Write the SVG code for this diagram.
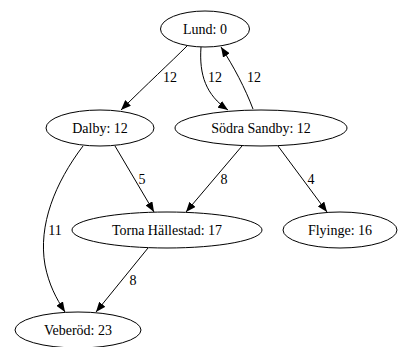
<svg xmlns="http://www.w3.org/2000/svg" width="398" height="347" viewBox="0 0 398 347">
<style>
  .node ellipse { fill: none; stroke: #000; stroke-width: 1; }
  .node text { font-family: "Liberation Serif", "Times New Roman", serif; font-size: 14px; text-anchor: middle; fill: #000; }
  .edge path { fill: none; stroke: #000; stroke-width: 1; marker-end: url(#arrow); }
  .edge text { font-family: "Liberation Serif", "Times New Roman", serif; font-size: 14px; text-anchor: middle; fill: #000; }
</style>
<defs>
  <marker id="arrow" viewBox="0 0 10 8" refX="10" refY="4" markerWidth="10" markerHeight="8" markerUnits="userSpaceOnUse" orient="auto">
    <path d="M0,0 L10,4 L0,8 Z" fill="#000"/>
  </marker>
</defs>
<rect width="398" height="347" fill="#fff"/>
<g id="edges">
  <g class="edge" id="e-lund-dalby"><path d="M187,46 C172,61 145,86 121,110"/><text x="170" y="82">12</text></g>
  <g class="edge" id="e-lund-sodra"><path d="M201,47 C199,75 206,95 228,110"/><text x="215" y="82">12</text></g>
  <g class="edge" id="e-sodra-lund"><path d="M253,109 C245,88 234,67 221,47"/><text x="254" y="82">12</text></g>
  <g class="edge" id="e-dalby-torna"><path d="M115,146 L154,212"/><text x="142" y="184">5</text></g>
  <g class="edge" id="e-dalby-veberod"><path d="M83,146 C55,183 38,225 45,265 C49,285 56,298 65,312"/><text x="55" y="235">11</text></g>
  <g class="edge" id="e-sodra-torna"><path d="M242,146 L186,212"/><text x="224" y="184">8</text></g>
  <g class="edge" id="e-sodra-flyinge"><path d="M278,146 L327,212"/><text x="311" y="184">4</text></g>
  <g class="edge" id="e-torna-veberod"><path d="M148,248 L96,312"/><text x="133" y="285">8</text></g>
</g>
<g class="node" id="n-lund"><ellipse cx="205" cy="29" rx="44.5" ry="18"/><text x="205" y="33.5">Lund: 0</text></g>
<g class="node" id="n-dalby"><ellipse cx="100" cy="128" rx="54" ry="18"/><text x="100" y="133">Dalby: 12</text></g>
<g class="node" id="n-sodra"><ellipse cx="261" cy="128" rx="86" ry="18"/><text x="261" y="133">Södra Sandby: 12</text></g>
<g class="node" id="n-torna"><ellipse cx="167" cy="230" rx="95" ry="18"/><text x="167" y="235">Torna Hällestad: 17</text></g>
<g class="node" id="n-flyinge"><ellipse cx="340" cy="230" rx="57" ry="18"/><text x="340" y="235">Flyinge: 16</text></g>
<g class="node" id="n-veberod"><ellipse cx="78" cy="330" rx="63" ry="18"/><text x="78" y="335">Veberöd: 23</text></g>
</svg>
